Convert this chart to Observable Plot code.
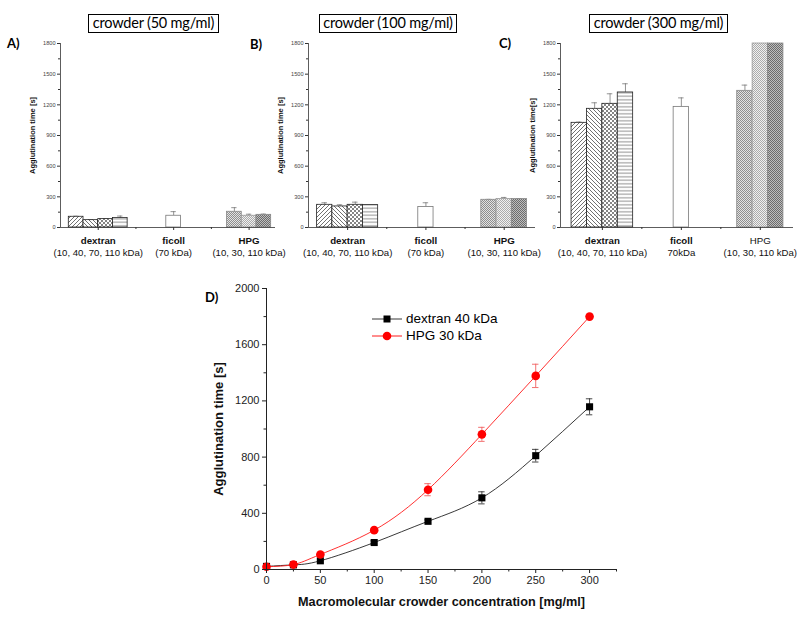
<!DOCTYPE html>
<html><head><meta charset="utf-8">
<script src="https://cdn.jsdelivr.net/npm/d3@7"></script>
<script src="https://cdn.jsdelivr.net/npm/@observablehq/plot@0.6"></script>
<style>
body{margin:0;background:#fff;}
#fig{position:relative;width:800px;height:620px;overflow:hidden;font-family:"Liberation Sans",Arial,sans-serif;}
.pane{position:absolute;}
.title{position:absolute;border:1.6px solid #000;font-family:Lato,"Open Sans",sans-serif;font-size:14.5px;letter-spacing:-0.2px;white-space:nowrap;text-align:center;box-sizing:border-box;height:19px;line-height:16px;}
.letter{position:absolute;font-family:Lato,"Open Sans",sans-serif;font-weight:bold;font-size:13px;}
.leg{position:absolute;font-size:13.5px;color:#000;white-space:nowrap;}
</style></head>
<body><div id="fig">
<svg width="0" height="0" style="position:absolute"><defs>
<pattern id="pFwd" patternUnits="userSpaceOnUse" width="4" height="4"><rect width="4" height="4" fill="#fff"/><path d="M-1,1 l2,-2 M0,4 l4,-4 M3,5 l2,-2" stroke="#333" stroke-width="0.7"/></pattern>
<pattern id="pBack" patternUnits="userSpaceOnUse" width="4" height="4"><rect width="4" height="4" fill="#fff"/><path d="M-1,3 l2,2 M0,0 l4,4 M3,-1 l2,2" stroke="#333" stroke-width="0.7"/></pattern>
<pattern id="pCross" patternUnits="userSpaceOnUse" width="4" height="4"><rect width="4" height="4" fill="#fff"/><path d="M-1,1 l2,-2 M0,4 l4,-4 M3,5 l2,-2 M-1,3 l2,2 M0,0 l4,4 M3,-1 l2,2" stroke="#333" stroke-width="0.6"/></pattern>
<pattern id="pHoriz" patternUnits="userSpaceOnUse" width="4" height="3.5"><rect width="4" height="3.5" fill="#fff"/><path d="M0,1.75 h4" stroke="#333" stroke-width="0.6"/></pattern>
<pattern id="pH10" patternUnits="userSpaceOnUse" width="2" height="2"><rect width="2" height="2" fill="#e2e2e2"/><rect width="1" height="1" fill="#8e8e8e"/><rect x="1" y="1" width="1" height="1" fill="#8e8e8e"/></pattern>
<pattern id="pH30" patternUnits="userSpaceOnUse" width="2" height="2"><rect width="2" height="2" fill="#f0f0f0"/><rect width="1" height="1" fill="#ababab"/><rect x="1" y="1" width="1" height="1" fill="#ababab"/></pattern>
<pattern id="pH110" patternUnits="userSpaceOnUse" width="2" height="2"><rect width="2" height="2" fill="#bdbdbd"/><rect width="1" height="1" fill="#6c6c6c"/><rect x="1" y="1" width="1" height="1" fill="#6c6c6c"/></pattern>
</defs></svg>
</div>
<script>
// ---------- data ----------
const groups = ["dextran", "ficoll", "HPG"];
const barGroup = ["dextran", "dextran", "dextran", "dextran", "ficoll", "HPG", "HPG", "HPG"];
const barMW = ["10", "40", "70", "110", "70", "10", "30", "110"];
const time50 = [105, 72, 82, 92, 115, 154, 115, 124];
const err50 = [5, 4, 4, 20, 40, 40, 15, 7];
const time100 = [222, 206, 222, 219, 200, 271, 278, 278];
const err100 = [20, 16, 26, 0, 42, 4, 16, 4];
const time300 = [1024, 1161, 1210, 1321, 1180, 1337, 1800, 1800];
const err300 = [7, 59, 98, 85, 88, 56, 0, 0];
const subLabelsAB = ["(10, 40, 70, 110 kDa)", "(70 kDa)", "(10, 30, 110 kDa)"];
const subLabelsC = ["(10, 40, 70, 110 kDa)", "70kDa", "(10, 30, 110 kDa)"];
const yTicksTop = [0, 300, 600, 900, 1200, 1500, 1800];

const concX = [0, 25, 50, 100, 150, 200, 250, 300];
const dex40 = [22, 33, 62, 192, 343, 510, 810, 1158];
const dex40Err = [0, 0, 0, 12, 10, 43, 45, 57];
const hpg30 = [20, 35, 107, 280, 568, 962, 1378, 1800];
const hpg30Err = [0, 0, 0, 0, 43, 50, 83, 0];
const xTicksD = [0, 50, 100, 150, 200, 250, 300];
const yTicksD = [0, 400, 800, 1200, 1600, 2000];

// ---------- styles ----------
const barFill = ["url(#pFwd)", "url(#pBack)", "url(#pCross)", "url(#pHoriz)", "#ffffff", "url(#pH10)", "url(#pH30)", "url(#pH110)"];
const barStroke = ["#222", "#222", "#222", "#222", "#777", "#888", "#999", "#888"];
const BW = 0.195, CAP = 0.035;
const fmt = d => String(d);
const fig = document.getElementById("fig");

function place(el, left, top) {
  el.classList.add("pane");
  el.style.left = left + "px";
  el.style.top = top + "px";
  fig.appendChild(el);
}

function barPanel(vals, errs, cfg) {
  const rows = barGroup.map((g, i) => {
    const gi = groups.indexOf(g);
    const n = barGroup.filter(x => x === g).length;
    const j = barGroup.slice(0, i).filter(x => x === g).length;
    const xc = gi + (j - (n - 1) / 2) * BW;
    return {g, mw: barMW[i], t: vals[i], e: errs[i], xc, fill: barFill[i], stroke: barStroke[i]};
  });
  const cats = groups.map((g, i) => ({g, i, sub: cfg.sub[i], bold: cfg.boldNames[i]}));
  const withErr = rows.filter(d => d.e > 0);
  return Plot.plot({
    width: cfg.width, height: 230,
    marginLeft: cfg.ml, marginRight: cfg.mr, marginTop: 8, marginBottom: 38,
    x: {domain: cfg.xd, axis: null},
    y: {domain: [0, 1800], axis: null},
    color: {type: "identity"},
    style: {fontFamily: "'Liberation Sans', Arial, sans-serif", background: "transparent", overflow: "visible"},
    marks: [
      Plot.ruleX(withErr, {x: "xc", y1: "t", y2: d => d.t + d.e, stroke: "#777", strokeWidth: 0.8}),
      Plot.ruleY(withErr, {y: d => d.t + d.e, x1: d => d.xc - CAP, x2: d => d.xc + CAP, stroke: "#777", strokeWidth: 0.8}),
      Plot.rectY(rows, {x1: d => d.xc - BW / 2, x2: d => d.xc + BW / 2, y1: 0, y2: "t", fill: "fill", stroke: "stroke", strokeWidth: 0.8}),
      Plot.ruleY([0], {stroke: "#333", strokeWidth: 0.8}),
      Plot.ruleX([cfg.xd[0]], {y1: 0, y2: 1800, stroke: "#333", strokeWidth: 0.8}),
      Plot.axisY({ticks: yTicksTop, tickFormat: fmt, tickSize: 3, tickPadding: 2, fontSize: 5.6, fill: "#444", stroke: "#333", label: null, anchor: "left"}),
      Plot.axisY({ticks: d3.range(150, 1800, 300), tickSize: 2, tickFormat: () => "", stroke: "#333", label: null, anchor: "left"}),
      Plot.axisX({ticks: [0, 1, 2], tickSize: 3, tickFormat: () => "", stroke: "#333", label: null, anchor: "bottom"}),
      Plot.axisX({ticks: [0.5, 1.5], tickSize: 2, tickFormat: () => "", stroke: "#333", label: null, anchor: "bottom"}),
      Plot.text(cats.filter(d => d.bold), {x: "i", y: 0, text: "g", dy: 13, fontSize: 9.7, fontWeight: "bold", fill: "#111"}),
      Plot.text(cats.filter(d => !d.bold), {x: "i", y: 0, text: "g", dy: 13, fontSize: 9.7, fill: "#111"}),
      Plot.text(cats, {x: "i", y: 0, text: "sub", dy: 25, fontSize: 9.6, fill: "#111"}),
      Plot.text([cfg.ylabel], {frameAnchor: "left", textAnchor: "middle", rotate: -90, dx: cfg.ldx, fontSize: 7.5, fontWeight: "bold", fill: "#111"})
    ]
  });
}

place(barPanel(time50, err50, {width: 275, ml: 60, mr: 0, xd: [-0.5, 2.35], sub: subLabelsAB, boldNames: [true, true, true], ylabel: "Agglutination time [s]", ldx: -28}), 0, 35);
place(barPanel(time100, err100, {width: 260, ml: 33, mr: 0, xd: [-0.5, 2.4], sub: subLabelsAB, boldNames: [true, true, true], ylabel: "Agglutination time [s]", ldx: -28}), 275, 35);
place(barPanel(time300, err300, {width: 265, ml: 25, mr: 7, xd: [-0.53, 2.42], sub: subLabelsC, boldNames: [true, true, false], ylabel: "Agglutination time[s]", ldx: -28}), 535, 35);

// ---------- panel D ----------
const dexRows = concX.map((c, i) => ({c, t: dex40[i], e: dex40Err[i]}));
const hpgRows = concX.map((c, i) => ({c, t: hpg30[i], e: hpg30Err[i]}));
const errMarks = (rows, color) => {
  const r = rows.filter(d => d.e > 0);
  return [
    Plot.ruleX(r, {x: "c", y1: d => d.t - d.e, y2: d => d.t + d.e, stroke: color, strokeWidth: 0.9}),
    Plot.ruleY(r, {y: d => d.t + d.e, x1: d => d.c - 3, x2: d => d.c + 3, stroke: color, strokeWidth: 0.9}),
    Plot.ruleY(r, {y: d => d.t - d.e, x1: d => d.c - 3, x2: d => d.c + 3, stroke: color, strokeWidth: 0.9})
  ];
};
const svgD = Plot.plot({
  width: 430, height: 340,
  marginLeft: 71, marginRight: 9, marginTop: 10, marginBottom: 49,
  x: {domain: [0, 325], axis: null},
  y: {domain: [0, 2000], axis: null},
  style: {fontFamily: "'Liberation Sans', Arial, sans-serif", background: "transparent", overflow: "visible"},
  marks: [
    Plot.line(dexRows, {x: "c", y: "t", curve: "natural", stroke: "#222", strokeWidth: 0.9}),
    Plot.line(hpgRows, {x: "c", y: "t", curve: "natural", stroke: "#ff1a1a", strokeWidth: 0.9}),
    ...errMarks(dexRows, "#333"),
    ...errMarks(hpgRows, "#f06060"),
    Plot.dot(dexRows, {x: "c", y: "t", symbol: "square", r: 4, fill: "#000", stroke: "none"}),
    Plot.dot(hpgRows, {x: "c", y: "t", r: 4.3, fill: "#ff0000", stroke: "none"}),
    Plot.ruleY([0], {stroke: "#222", strokeWidth: 1}),
    Plot.ruleX([0], {y1: 0, y2: 2000, stroke: "#222", strokeWidth: 1}),
    Plot.axisX({ticks: xTicksD, tickFormat: fmt, tickSize: 4, tickPadding: 3, fontSize: 11, fill: "#222", stroke: "#222", label: null, anchor: "bottom"}),
    Plot.axisX({ticks: d3.range(25, 326, 50), tickSize: 2.5, tickFormat: () => "", stroke: "#222", label: null, anchor: "bottom"}),
    Plot.axisY({ticks: yTicksD, tickFormat: fmt, tickSize: 4, tickPadding: 3, fontSize: 11, fill: "#222", stroke: "#222", label: null, anchor: "left"}),
    Plot.axisY({ticks: d3.range(200, 2000, 400), tickSize: 2.5, tickFormat: () => "", stroke: "#222", label: null, anchor: "left"}),
    Plot.text(["Agglutination time [s]"], {frameAnchor: "left", textAnchor: "middle", rotate: -90, dx: -48, fontSize: 13, fontWeight: "bold", fill: "#111"}),
    Plot.text(["Macromolecular crowder concentration [mg/ml]"], {frameAnchor: "bottom", dy: 36, fontSize: 12.7, fontWeight: "bold", fill: "#111"})
  ]
});
place(svgD, 195, 278);

// ---------- titles, letters, legend ----------
function addDiv(cls, text, left, top, width) {
  const d = document.createElement("div");
  d.className = cls;
  d.textContent = text;
  d.style.left = left + "px";
  d.style.top = top + "px";
  if (width) d.style.width = width + "px";
  fig.appendChild(d);
  return d;
}
addDiv("title", "crowder (50 mg/ml)", 88, 14, 131);
addDiv("title", "crowder (100 mg/ml)", 319, 14, 138);
addDiv("title", "crowder (300 mg/ml)", 589, 14, 139);
addDiv("letter", "A)", 7, 35);
addDiv("letter", "B)", 250, 36);
addDiv("letter", "C)", 499, 35);
addDiv("letter", "D)", 205, 289);

const legItems = [{label: "dextran 40 kDa", color: "#222", sym: "square"}, {label: "HPG 30 kDa", color: "#ff0000", sym: "circle"}];
legItems.forEach((it, k) => {
  const y = 319 + k * 17;
  const s = d3.select(fig).append("svg").attr("class", "pane")
    .style("left", "370px").style("top", (y - 6) + "px").attr("width", 34).attr("height", 12);
  s.append("line").attr("x1", 2).attr("x2", 32).attr("y1", 6).attr("y2", 6).attr("stroke", it.color).attr("stroke-width", 0.9);
  if (it.sym === "square") s.append("rect").attr("x", 13.5).attr("y", 2.5).attr("width", 7).attr("height", 7).attr("fill", "#000");
  else s.append("circle").attr("cx", 17).attr("cy", 6).attr("r", 4.3).attr("fill", "#ff0000");
  addDiv("leg", it.label, 406, y - 8.5);
});
</script>
</body></html>
